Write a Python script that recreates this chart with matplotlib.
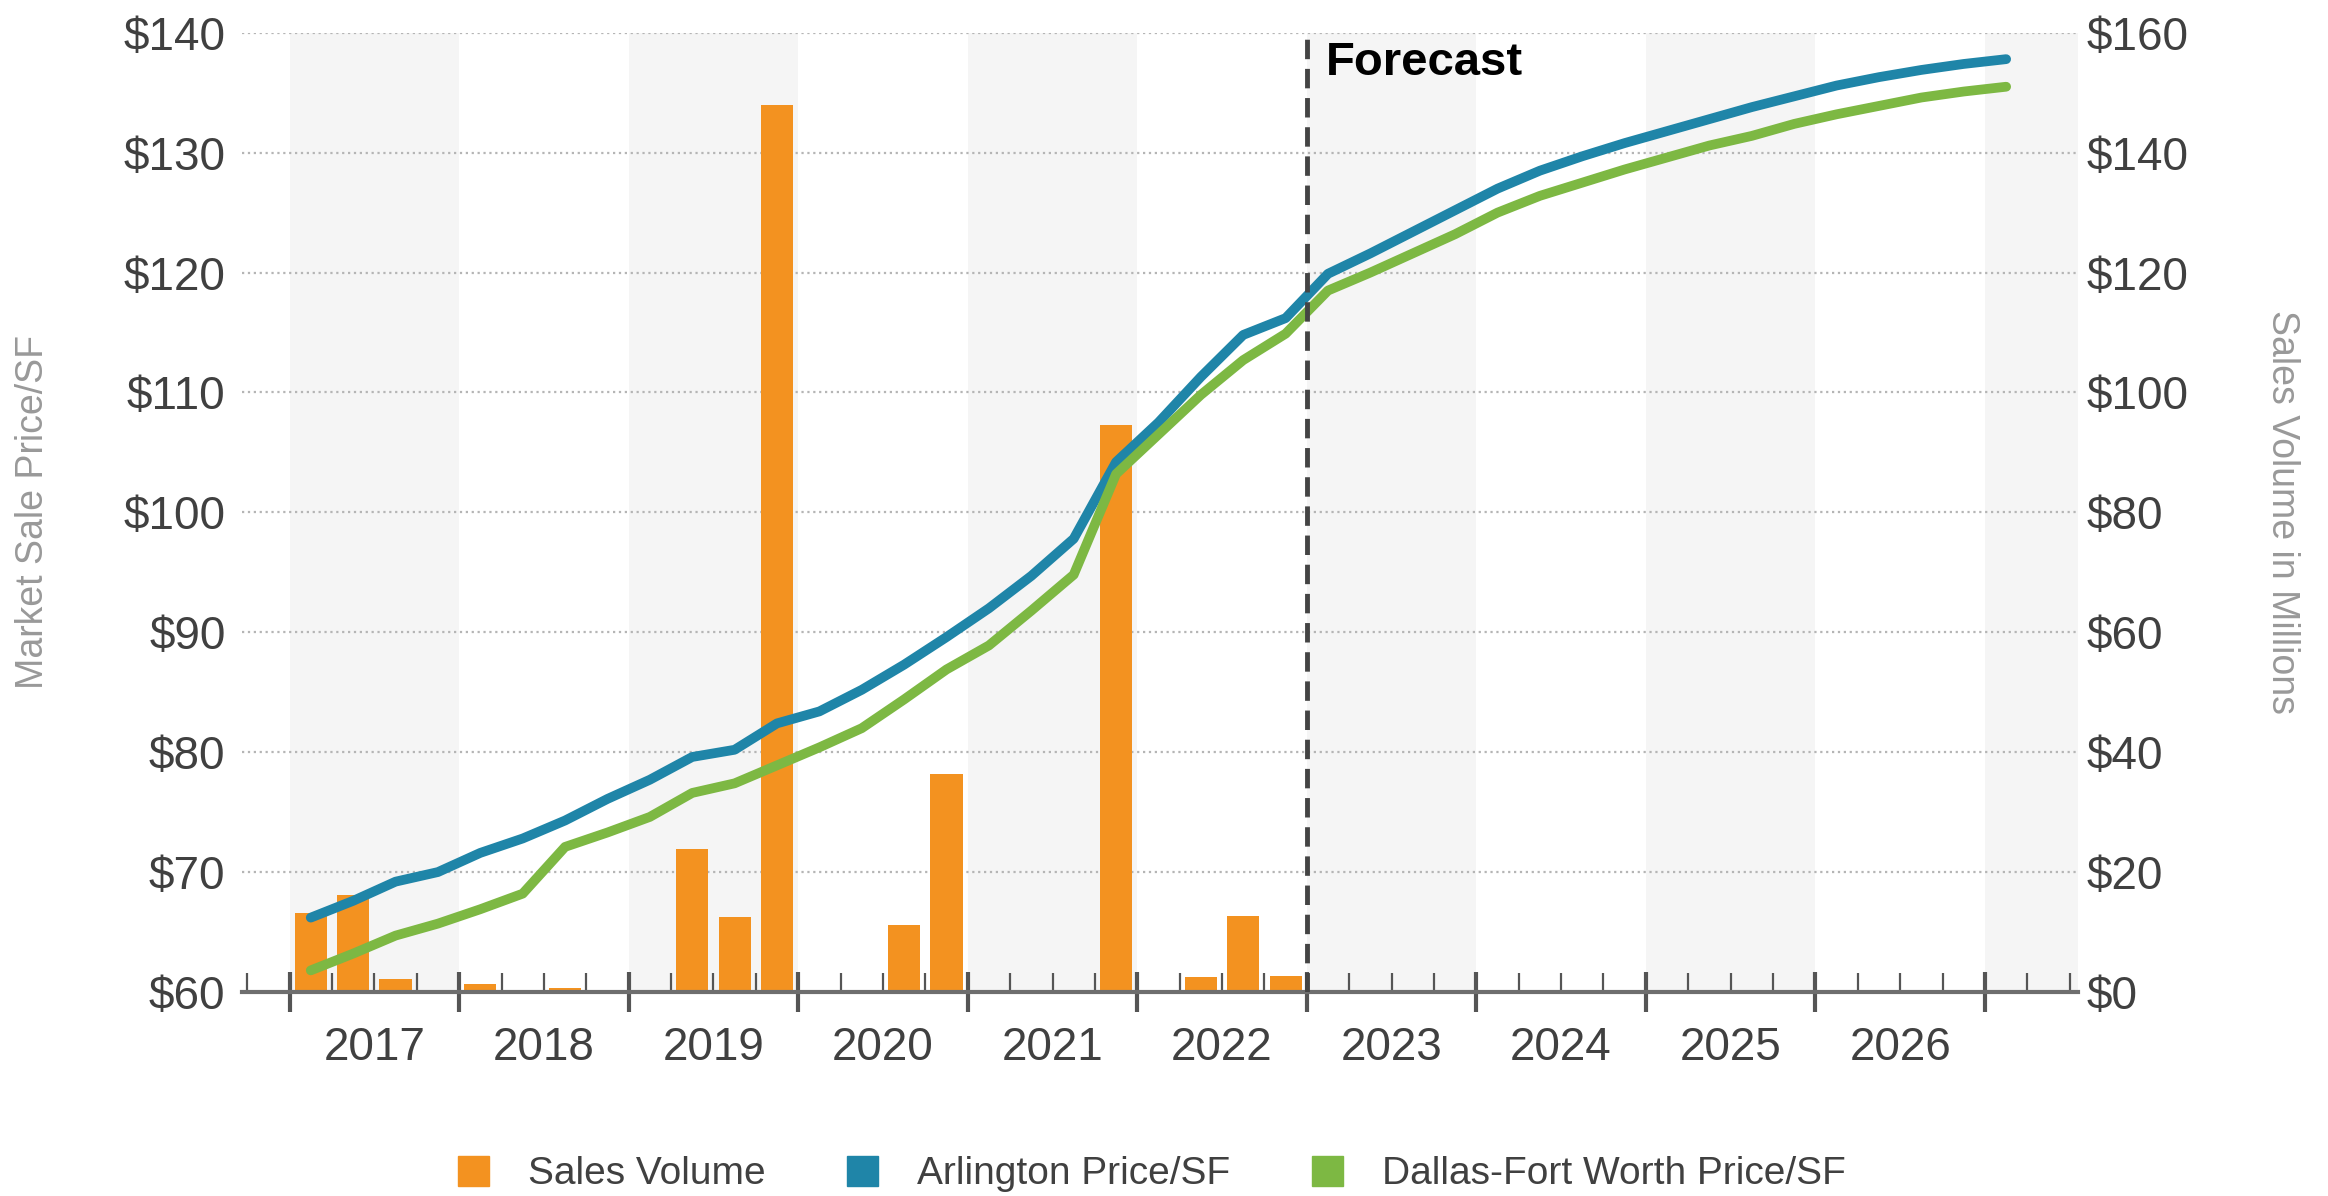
import matplotlib.pyplot as plt
from matplotlib.patches import Patch
import numpy as np

plt.rcParams['font.family'] = ['Liberation Sans', 'DejaVu Sans']

# quarterly data, first point = 2017 Q1
start_year = 2017
forecast_year = 2023
year_labels = ['2017', '2018', '2019', '2020', '2021', '2022', '2023', '2024', '2025', '2026']

# sales volume in $M, 2017 Q1 - 2022 Q4
sales_volume = [13.2, 16.1, 2.1, 0,
                1.3, 0, 0.7, 0,
                0, 23.8, 12.5, 148.0,
                0, 0, 11.2, 36.4,
                0, 0, 0, 94.6,
                0, 2.5, 12.7, 2.7]

# price per SF, 2017 Q1 - 2027 Q1
arlington_price = [66.2, 67.6, 69.2, 70.0,
                   71.6, 72.8, 74.3, 76.1,
                   77.7, 79.6, 80.2, 82.4,
                   83.4, 85.2, 87.3, 89.6,
                   92.0, 94.7, 97.8, 104.2,
                   107.5, 111.3, 114.8, 116.2,
                   119.9, 121.6, 123.4, 125.2,
                   127.0, 128.5, 129.7, 130.8,
                   131.8, 132.8, 133.8, 134.7,
                   135.6, 136.3, 136.9, 137.4,
                   137.8]
dfw_price = [61.8, 63.2, 64.7, 65.7,
             66.9, 68.2, 72.1, 73.3,
             74.6, 76.6, 77.4, 78.9,
             80.4, 82.0, 84.4, 86.9,
             88.9, 91.8, 94.8, 103.2,
             106.5, 109.8, 112.7, 114.9,
             118.5, 120.0, 121.6, 123.2,
             125.0, 126.4, 127.5, 128.6,
             129.6, 130.6, 131.4, 132.4,
             133.2, 133.9, 134.6, 135.1,
             135.5]

orange = '#F39220'
blue = '#1F85A8'
green = '#7DB843'
text_col = '#404040'

fig = plt.figure(figsize=(23.28, 11.96), dpi=100)
ax = fig.add_axes([0.104, 0.1706, 0.7887, 0.802])
axb = ax.twinx()
ax.set_zorder(axb.get_zorder() + 1)
ax.patch.set_visible(False)

xlim = (2016.72, 2027.55)
x_vol = start_year + (np.arange(len(sales_volume)) + 0.5) / 4
x_price = start_year + (np.arange(len(arlington_price)) + 0.5) / 4

# alternating year bands
for yr in range(start_year, 2028, 2):
    axb.axvspan(yr, min(yr + 1, xlim[1]), color='#f5f5f5', lw=0, zorder=0)

axb.bar(x_vol, sales_volume, width=0.19, color=orange, zorder=2)
axb.set_ylim(0, 160)
axb.set_yticks(range(0, 161, 20))
axb.set_yticklabels(['$%d' % v for v in range(0, 161, 20)])
axb.yaxis.grid(True, linestyle=':', color='#b5b5b5', lw=1.6, zorder=1)
axb.set_axisbelow(True)
axb.tick_params(axis='y', length=0, pad=6, labelsize=33, labelcolor=text_col)

ax.plot(x_price, arlington_price, color=blue, lw=7, solid_capstyle='round',
        solid_joinstyle='round', zorder=3)
ax.plot(x_price, dfw_price, color=green, lw=7, solid_capstyle='round',
        solid_joinstyle='round', zorder=3)
ax.axvline(forecast_year, color='#444444', lw=3.5, dashes=(4, 2), zorder=4)
ax.text(forecast_year + 0.11, 136.5, 'Forecast', fontsize=34, fontweight='bold',
        color='black', va='baseline', ha='left')

ax.set_xlim(*xlim)
axb.set_xlim(*xlim)
ax.set_ylim(60, 140)
ax.set_yticks(range(60, 141, 10))
ax.set_yticklabels(['$%d' % v for v in range(60, 141, 10)])
ax.tick_params(axis='y', length=0, pad=12, labelsize=33, labelcolor=text_col)

ax.set_xticks(range(start_year, 2028))
ax.set_xticklabels([])
ax.set_xticks(np.arange(2016.75, 2027.6, 0.25), minor=True)
ax.tick_params(axis='x', which='major', direction='inout', length=29, width=3, color='#555555')
ax.tick_params(axis='x', which='minor', direction='in', length=14, width=1.6, color='#555555')

for i, lab in enumerate(year_labels):
    ax.annotate(lab, xy=(start_year + i + 0.5, 0), xycoords=('data', 'axes fraction'),
                xytext=(0, -49), textcoords='offset points', ha='center', va='baseline',
                fontsize=33, color=text_col)

for s in ['top', 'left', 'right']:
    ax.spines[s].set_visible(False)
    axb.spines[s].set_visible(False)
axb.spines['bottom'].set_visible(False)
ax.spines['bottom'].set_color('#6e6e6e')
ax.spines['bottom'].set_linewidth(3)

fig.text(33 / 2328, 0.572, 'Market Sale Price/SF', rotation=90, ha='center', va='center',
         fontsize=27, color='#999999')
fig.text(2282 / 2328, 0.572, 'Sales Volume in Millions', rotation=270, ha='center', va='center',
         fontsize=27, color='#999999')

handles = [Patch(color=orange, label='Sales Volume'),
           Patch(color=blue, label='Arlington Price/SF'),
           Patch(color=green, label='Dallas-Fort Worth Price/SF')]
leg = fig.legend(handles=handles, loc='center', bbox_to_anchor=(1152 / 2328, 22 / 1196),
                 ncol=3, frameon=False, fontsize=28, handlelength=0.8, handleheight=0.8,
                 handletextpad=1.0, columnspacing=2.1)
for t in leg.get_texts():
    t.set_color(text_col)

fig.savefig('out.png', dpi=100)
